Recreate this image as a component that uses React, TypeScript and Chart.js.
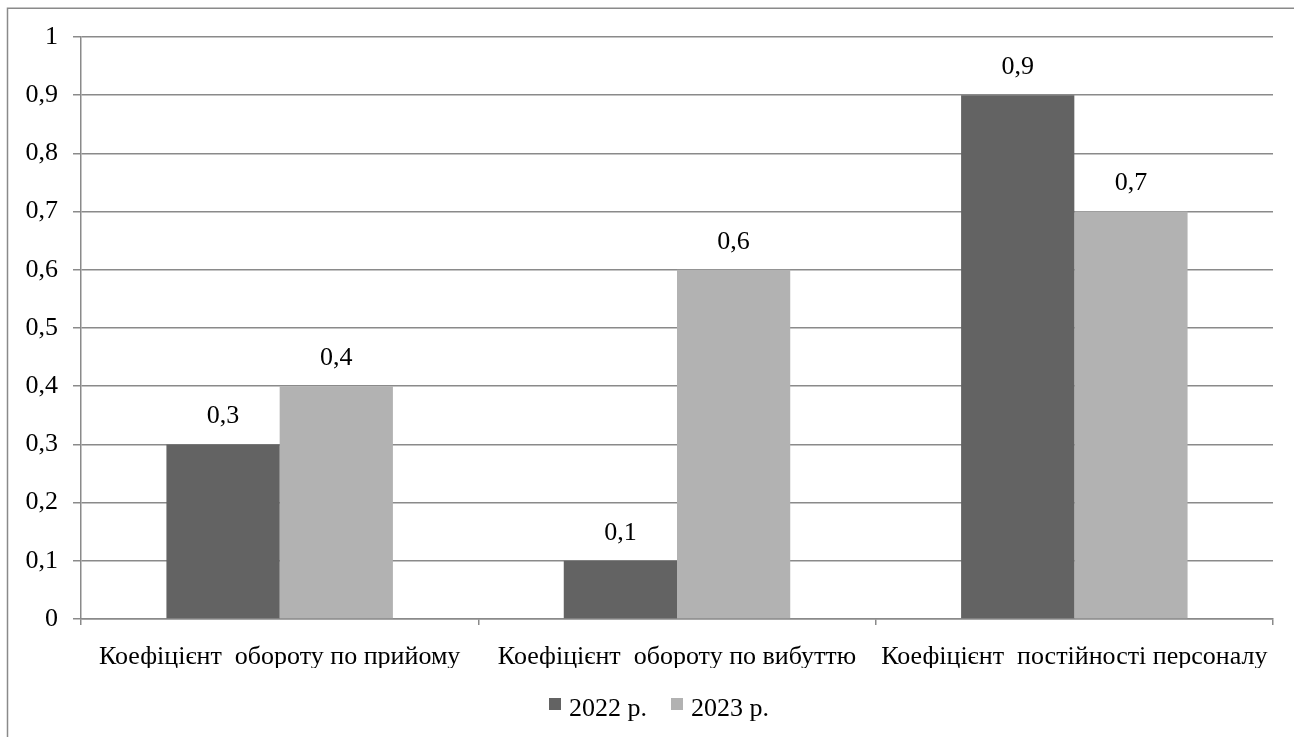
import React, { useEffect, useRef } from "react";
import { Chart, registerables } from "chart.js";

Chart.register(...registerables);

// Categories and series values
const categories = [
  "Коефіцієнт  обороту по прийому",
  "Коефіцієнт  обороту по вибуттю",
  "Коефіцієнт  постійності персоналу",
];
const series2022 = [0.3, 0.1, 0.9];
const series2023 = [0.4, 0.6, 0.7];
const seriesNames = ["2022 р.", "2023 р."];
const seriesColors = ["#636363", "#b2b2b2"];
const yTickLabels = ["0", "0,1", "0,2", "0,3", "0,4", "0,5", "0,6", "0,7", "0,8", "0,9", "1"];

const FONT = "'Liberation Serif', 'Times New Roman', serif";
const GRID = "#8a8a8a";

const fmt = (v: number) => String(v).replace(".", ",");

// Draws the value above every bar
const valueLabels = {
  id: "valueLabels",
  afterDatasetsDraw(chart: any) {
    const ctx = chart.ctx;
    ctx.save();
    ctx.font = `26px ${FONT}`;
    ctx.fillStyle = "#000";
    ctx.textAlign = "center";
    ctx.textBaseline = "middle";
    chart.data.datasets.forEach((ds: any, di: number) => {
      const meta = chart.getDatasetMeta(di);
      meta.data.forEach((el: any, i: number) => {
        ctx.fillText(fmt(ds.data[i]), el.x, el.y - 28);
      });
    });
    ctx.restore();
  },
};

// Compact legend under the axis: small square, then the series name
const bottomLegend = {
  id: "bottomLegend",
  afterDraw(chart: any) {
    const ctx = chart.ctx;
    ctx.save();
    ctx.font = `26px ${FONT}`;
    const box = 12;
    const gapText = 8;
    const gapItem = 24;
    const items = chart.data.datasets.map((ds: any) => ({
      text: ds.label,
      color: ds.backgroundColor,
      w: ctx.measureText(ds.label).width,
    }));
    const total =
      items.reduce((s: number, it: any) => s + box + gapText + it.w, 0) +
      gapItem * (items.length - 1);
    let x = chart.width / 2 + 12 - total / 2;
    const baseline = 716;
    items.forEach((it: any) => {
      ctx.fillStyle = it.color;
      ctx.fillRect(x, 698, box, box);
      x += box + gapText;
      ctx.fillStyle = "#000";
      ctx.textAlign = "left";
      ctx.textBaseline = "alphabetic";
      ctx.fillText(it.text, x, baseline);
      x += it.w + gapItem;
    });
    ctx.restore();
  },
};

// Outer frame of the chart object (left and top edges)
const frame = {
  id: "frame",
  afterDraw(chart: any) {
    const ctx = chart.ctx;
    ctx.save();
    ctx.strokeStyle = GRID;
    ctx.lineWidth = 1.5;
    ctx.beginPath();
    ctx.moveTo(7.5, chart.height);
    ctx.lineTo(7.5, 8.25);
    ctx.lineTo(chart.width, 8.25);
    ctx.stroke();
    ctx.restore();
  },
};

export default function App() {
  const ref = useRef<HTMLCanvasElement | null>(null);

  useEffect(() => {
    if (!ref.current) return;
    const chart = new Chart(ref.current, {
      type: "bar",
      data: {
        labels: categories,
        datasets: [
          {
            label: seriesNames[0],
            data: series2022,
            backgroundColor: seriesColors[0],
            categoryPercentage: 0.57,
            barPercentage: 1,
          },
          {
            label: seriesNames[1],
            data: series2023,
            backgroundColor: seriesColors[1],
            categoryPercentage: 0.57,
            barPercentage: 1,
          },
        ],
      },
      options: {
        animation: false,
        responsive: false,
        maintainAspectRatio: false,
        layout: { padding: { left: 0, right: 21, top: 37, bottom: 69 } },
        plugins: {
          tooltip: { enabled: false },
          legend: { display: false },
        },
        scales: {
          x: {
            grid: {
              offset: true,
              drawOnChartArea: false,
              drawTicks: true,
              tickLength: 6,
              color: GRID,
              lineWidth: 1.5,
            },
            border: { display: true, color: GRID, width: 1.5 },
            ticks: {
              font: { family: FONT, size: 26 },
              color: "#000",
              padding: 17,
              maxRotation: 0,
              autoSkip: false,
            },
            afterFit: (s: any) => {
              s.height = 49;
            },
          },
          y: {
            min: 0,
            max: 1,
            grid: {
              color: GRID,
              lineWidth: 1.5,
              drawTicks: true,
              tickLength: 8,
            },
            border: { display: true, color: GRID, width: 1.5 },
            ticks: {
              stepSize: 0.1,
              font: { family: FONT, size: 26 },
              color: "#000",
              padding: 15,
              callback: (_v: any, i: number) => yTickLabels[i],
            },
            afterFit: (s: any) => {
              s.width = 81;
            },
          },
        },
      },
      plugins: [valueLabels, bottomLegend, frame],
    });
    return () => chart.destroy();
  }, []);

  return (
    <div style={{ position: "fixed", left: 0, top: 0, width: 1294, height: 737, background: "#fff" }}>
      <canvas ref={ref} width={1294} height={737} style={{ display: "block" }} />
    </div>
  );
}
